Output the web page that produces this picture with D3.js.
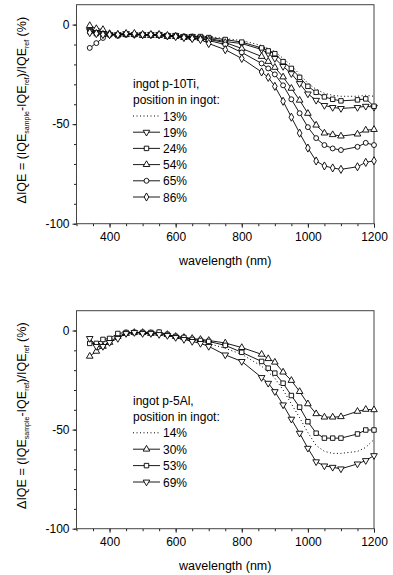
<!DOCTYPE html>
<html>
<head>
<meta charset="utf-8">
<script src="https://cdn.jsdelivr.net/npm/d3@7"></script>
<style>
  body { margin: 0; background: #fff; }
  svg { font-family: "Liberation Sans", Arial, sans-serif; }
</style>
</head>
<body>
<svg width="393" height="575"></svg>
<script>
// wavelength points (nm)
var wl = [340, 360, 380, 400, 425, 450, 475, 500, 525, 550, 575, 600, 625, 650, 675, 700,
          750, 800, 860, 880, 900, 925, 950, 975, 1000, 1025, 1050, 1075, 1100, 1150, 1175, 1200];

// ingot p-10Ti
var ti13 = [-4, -4, -4.5, -4.5, -5, -4.5, -4.5, -5, -5, -5, -5, -5, -5.5, -5.5, -6, -6,
            -7, -8, -10.5, -12, -13.5, -17, -20.5, -25, -29.5, -32.5, -34.5, -35.5, -36, -36, -35.5, -36];
var ti19 = [-3, -4, -4.5, -5, -5, -4.5, -5, -5, -5, -5, -5.5, -5.5, -6, -6, -6.5, -7,
            -8.5, -9.5, -12.5, -14.5, -17, -21, -24.6, -29.6, -34.8, -38, -40.6, -41.6, -42.1, -41.6, -41, -41.5];
var ti24 = [-3.5, -4.5, -5, -5, -5.5, -5, -5, -5, -5, -5, -5.5, -5.5, -6, -6, -6, -6.5,
            -7.5, -8.8, -11.7, -13.2, -14.6, -18.6, -22, -26.5, -31, -34, -36.3, -37.5, -38.3, -37.8, -37.3, -41];
var ti54 = [-0.5, -2, -2.5, -4.5, -5, -5, -5, -5.5, -5.5, -5.5, -6, -6, -6.5, -6.5, -7, -7.5,
            -9, -12, -16, -18.5, -21.5, -26.3, -32, -38, -44.6, -50.5, -54.5, -55.3, -56, -55, -53, -52.7];
var ti65 = [-11.7, -9.3, -6.7, -5, -5, -4.5, -5, -5, -5, -5.5, -6, -6, -6.5, -7, -7, -8,
            -10, -14, -19.5, -22, -25, -30.5, -37.5, -44.5, -51.5, -57, -60.5, -62.2, -63, -61.4, -59.4, -60.5];
var ti86 = [-4, -4.5, -5, -5, -5, -4.5, -4.5, -5, -5, -5, -5.5, -6, -6.5, -7, -7.5, -9.5,
            -12.6, -17, -23.8, -26.5, -31, -38.5, -46.5, -54.5, -62, -68.5, -71, -72, -72.7, -71.4, -69.2, -68.4];

// ingot p-5Al
var al14 = [-5, -7, -6, -5, -3, -1.5, -1, -1, -1.5, -1.5, -2, -3, -4, -5, -5.5, -6.5,
            -9, -12, -18, -21, -24, -30, -37, -44, -51.5, -58, -61, -62, -62, -61, -59, -55];
var al30 = [-13, -10.5, -8, -6, -3, -1.5, -1, -1, -1.5, -1.5, -2, -3, -3.5, -4, -4.5, -5,
            -6.3, -8.6, -12, -14.2, -16, -21, -25.2, -30.8, -37, -42, -43.7, -43.7, -43.5, -40.8, -39.8, -40];
var al53 = [-6.5, -6.5, -4.5, -4, -1.5, -1, -1, -1, -1, -0.8, -2, -3, -3.5, -4.5, -5, -5.5,
            -7.5, -11, -15.6, -19, -21.5, -26.6, -32.8, -38.7, -46, -51.8, -54.3, -54.3, -54.3, -52.2, -50.2, -50.2];
var al69 = [-4, -8, -8, -6, -4, -1.5, -1, -1.5, -1.5, -2, -2.5, -3.5, -4.5, -5.5, -6.5, -8,
            -12.3, -15.6, -23.7, -26.6, -30.8, -37.5, -44.7, -51.8, -59.4, -66.2, -68.3, -69, -69.8, -67.3, -65.6, -63.1];

var xTicks = [400, 600, 800, 1000, 1200];
var yTicks = [0, -50, -100];

var panels = [
  {top: 4.7, bottom: 223.7, title: ["ingot p-10Ti,", "position in ingot:"], legendY: 83.6, legendStep: 16.2,
   series: [
     {name: "13%", values: ti13, marker: null},
     {name: "19%", values: ti19, marker: "down"},
     {name: "24%", values: ti24, marker: "square"},
     {name: "54%", values: ti54, marker: "up"},
     {name: "65%", values: ti65, marker: "circle"},
     {name: "86%", values: ti86, marker: "diamond"}
   ]},
  {top: 310.7, bottom: 528.7, title: ["ingot p-5Al,", "position in ingot:"], legendY: 400, legendStep: 16.4,
   series: [
     {name: "14%", values: al14, marker: null},
     {name: "30%", values: al30, marker: "up"},
     {name: "53%", values: al53, marker: "square"},
     {name: "69%", values: al69, marker: "down"}
   ]}
];

var svg = d3.select("svg");
var left = 76.5, right = 374;

var x = d3.scaleLinear().domain([300, 1200]).range([left, right]);

function markerPath(type) {
  if (type == "up" || type == "down") return d3.symbol().type(d3.symbolTriangle).size(19)();
  if (type == "square") return d3.symbol().type(d3.symbolSquare).size(20)();
  if (type == "circle") return d3.symbol().type(d3.symbolCircle).size(19)();
  if (type == "diamond") return d3.symbol().type(d3.symbolDiamond).size(19)();
}

function drawMarker(g, type, px, py) {
  g.append("path")
    .attr("d", markerPath(type))
    .attr("transform", "translate(" + px + "," + py + ")" + (type == "down" ? " rotate(180)" : ""))
    .attr("fill", "#fff")
    .attr("stroke", "#000")
    .attr("stroke-width", 0.9);
}

panels.forEach(function(p) {
  var y = d3.scaleLinear().domain([-100, 10]).range([p.bottom, p.top]);
  var g = svg.append("g");

  // axes, ticks outward
  var xAxis = d3.axisBottom(x).tickValues(xTicks).tickSize(4).tickPadding(5).tickFormat(function(d) { return String(d); });
  var xMinor = d3.axisBottom(x).tickValues(d3.range(300, 1201, 50)).tickSize(2.5).tickFormat("");
  var yAxis = d3.axisLeft(y).tickValues(yTicks).tickSize(4).tickPadding(3).tickFormat(function(d) { return String(d); });
  var yMinor = d3.axisLeft(y).tickValues(d3.range(-100, 1, 10)).tickSize(2.5).tickFormat("");

  [xMinor, xAxis].forEach(function(a) {
    g.append("g").attr("transform", "translate(0," + p.bottom + ")").call(a);
  });
  [yMinor, yAxis].forEach(function(a) {
    g.append("g").attr("transform", "translate(" + left + ",0)").call(a);
  });
  g.selectAll(".domain").remove();
  g.selectAll(".tick line").attr("stroke", "#222");
  g.selectAll(".tick text").attr("font-size", 12).attr("fill", "#000")
    .attr("font-family", "Liberation Sans, Arial, sans-serif");

  g.append("rect")
    .attr("x", left).attr("y", p.top)
    .attr("width", right - left).attr("height", p.bottom - p.top)
    .attr("fill", "none").attr("stroke", "#444").attr("stroke-width", 1);

  g.append("text")
    .attr("x", (left + right) / 2).attr("y", p.bottom + 41.5)
    .attr("text-anchor", "middle").attr("font-size", 12.5)
    .text("wavelength (nm)");

  var yt = g.append("text")
    .attr("transform", "translate(26," + ((p.top + p.bottom) / 2 - 4) + ") rotate(-90)")
    .attr("text-anchor", "middle").attr("font-size", 12.5);
  yt.append("tspan").text("\u0394IQE = (IQE");
  yt.append("tspan").attr("font-size", 7).attr("dy", 2.5).text("sample");
  yt.append("tspan").attr("dy", -2.5).text("-IQE");
  yt.append("tspan").attr("font-size", 7).attr("dy", 2.5).text("ref");
  yt.append("tspan").attr("dy", -2.5).text(")/IQE");
  yt.append("tspan").attr("font-size", 7).attr("dy", 2.5).text("ref");
  yt.append("tspan").attr("dy", -2.5).text(" (%)");

  var line = d3.line()
    .x(function(d, i) { return x(wl[i]); })
    .y(function(d) { return y(d); });

  p.series.forEach(function(s) {
    g.append("path")
      .datum(s.values)
      .attr("d", line)
      .attr("fill", "none")
      .attr("stroke", "#000")
      .attr("stroke-width", s.marker ? 0.9 : 1)
      .attr("stroke-dasharray", s.marker ? null : "1,2.5");
    if (s.marker) {
      s.values.forEach(function(v, i) { drawMarker(g, s.marker, x(wl[i]), y(v)); });
    }
  });

  // legend
  var lx = 133;
  p.title.forEach(function(t, i) {
    g.append("text").attr("x", lx).attr("y", p.legendY + i * p.legendStep + 4.5)
      .attr("font-size", 12).text(t);
  });
  p.series.forEach(function(s, i) {
    var ly = p.legendY + (i + 2) * p.legendStep;
    g.append("line")
      .attr("x1", lx).attr("x2", lx + 27).attr("y1", ly).attr("y2", ly)
      .attr("stroke", "#000").attr("stroke-width", s.marker ? 0.9 : 1)
      .attr("stroke-dasharray", s.marker ? null : "1,2.5");
    if (s.marker) drawMarker(g, s.marker, lx + 13.5, ly);
    g.append("text").attr("x", lx + 30).attr("y", ly + 4.5)
      .attr("font-size", 12).text(s.name);
  });
});
</script>
</body>
</html>
